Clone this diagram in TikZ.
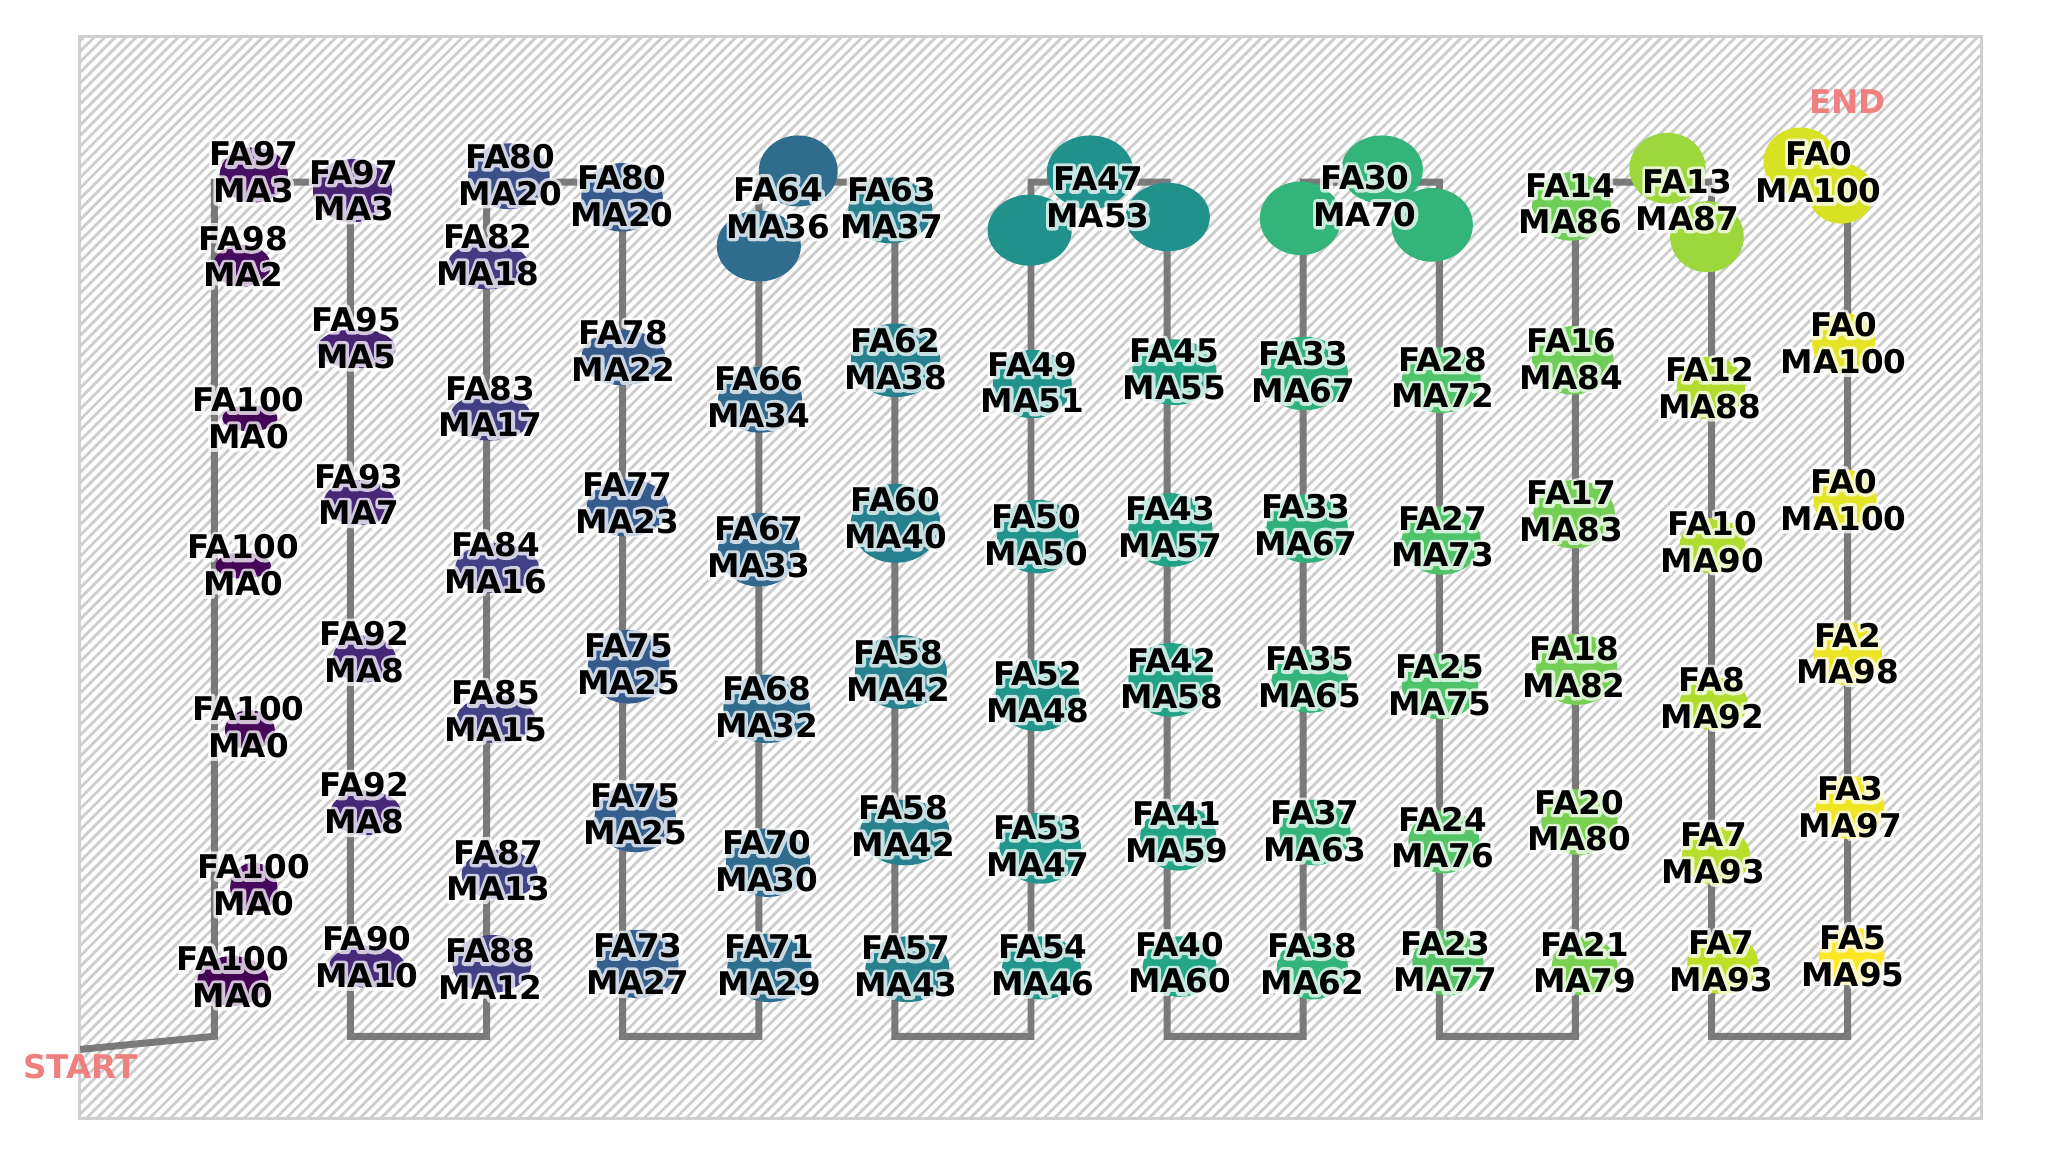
\documentclass[tikz,border=0pt]{standalone}
\usepackage{fontspec}
\setmainfont{DejaVu Sans}
\definecolor{v0}{HTML}{440154}
\definecolor{v1}{HTML}{482475}
\definecolor{v2}{HTML}{414487}
\definecolor{v3}{HTML}{355F8D}
\definecolor{v4}{HTML}{2A788E}
\definecolor{v5}{HTML}{21918C}
\definecolor{v6}{HTML}{22A884}
\definecolor{v7}{HTML}{44BF70}
\definecolor{v8}{HTML}{7AD151}
\definecolor{v9}{HTML}{BDDF26}
\definecolor{v10}{HTML}{FDE725}
\definecolor{hatchc}{HTML}{CDCDCD}
\definecolor{framec}{HTML}{CFCFCF}
\definecolor{pathc}{HTML}{6E6E6E}
\definecolor{markc}{HTML}{F08080}
\newcommand\setvir[1]{%
  \pgfmathsetmacro\vt{max(0,min(1,#1))*10}%
  \pgfmathtruncatemacro\vk{min(\vt,9.999)}%
  \pgfmathtruncatemacro\vkn{\vk+1}%
  \pgfmathsetmacro\vf{(\vt-\vk)*100}%
  \colorlet{blobc}{v\vkn!\vf!v\vk}%
}
\newcommand\strokeon{\special{pdf:literal direct 1 Tr 2.5 w 1 j 1 J}}
\newcommand\strokeoff{\special{pdf:literal direct 0 Tr}}
\newcommand\nd[7]{}
\def\alldata{%
\nd{a1}{193}{131}{FA97}{MA3}{0.04}{193/133/26/21}
\nd{a2}{185}{195}{FA98}{MA2}{0.03}{184/202/22/16}
\nd{a3}{189}{318}{FA100}{MA0}{0.01}{190/318/21/10}
\nd{a4}{185}{430}{FA100}{MA0}{0.01}{185/430/21/10}
\nd{a5}{189}{553}{FA100}{MA0}{0.02}{190/555/19/15}
\nd{a6}{193}{673}{FA100}{MA0}{0.02}{193/675/18/19}
\nd{a7}{177}{743}{FA100}{MA0}{0.0}{177/746/27/19}
\nd{b1}{269}{145}{FA97}{MA3}{0.10}{268/145/30/24}
\nd{b2}{271}{257}{FA95}{MA5}{0.10}{271/265/30/15}
\nd{b3}{273}{376}{FA93}{MA7}{0.11}{273/382/27/17}
\nd{b4}{277}{496}{FA92}{MA8}{0.11}{277/501/24/18}
\nd{b5}{277}{611}{FA92}{MA8}{0.11}{278/618/27/17}
\nd{b6}{279}{728}{FA90}{MA10}{0.12}{279/735/29/16}
\nd{c1}{388}{133}{FA80}{MA20}{0.24}{387/134/31/25}
\nd{c2}{371}{194}{FA82}{MA18}{0.17}{371/202/31/18}
\nd{c3}{373}{309}{FA83}{MA17}{0.18}{373/317/31/18}
\nd{c4}{377}{428}{FA84}{MA16}{0.19}{378/432/32/19}
\nd{c5}{377}{541}{FA85}{MA15}{0.19}{377/547/30/18}
\nd{c6}{379}{662}{FA87}{MA13}{0.20}{380/665/29/19}
\nd{c7}{373}{737}{FA88}{MA12}{0.19}{374/733/30/22}
\nd{d1}{473}{149}{FA80}{MA20}{0.28}{473/150/31/26}
\nd{d2}{474}{267}{FA78}{MA22}{0.28}{474/272/32/21}
\nd{d3}{477}{383}{FA77}{MA23}{0.29}{477/386/31/22}
\nd{d4}{478}{505}{FA75}{MA25}{0.29}{478/507/31/28}
\nd{d5}{483}{619}{FA75}{MA25}{0.30}{483/622/31/26}
\nd{d6}{485}{733}{FA73}{MA27}{0.30}{485/733/31/26}
\nd{e1}{592}{158}{FA64}{MA36}{0.35}{607/130/30/27, 577/187/32/27}
\nd{e2}{577}{302}{FA66}{MA34}{0.34}{578/304/32/25}
\nd{e3}{577}{416}{FA67}{MA33}{0.34}{577/418/31/28}
\nd{e4}{583}{538}{FA68}{MA32}{0.35}{583/539/33/26}
\nd{e5}{583}{655}{FA70}{MA30}{0.35}{584/656/32/26}
\nd{e6}{585}{734}{FA71}{MA29}{0.36}{585/736/32/26}
\nd{f1}{678}{158}{FA63}{MA37}{0.43}{677/160/32/25}
\nd{f2}{681}{273}{FA62}{MA38}{0.43}{681/274/34/28}
\nd{f3}{681}{394}{FA60}{MA40}{0.43}{681/398/34/30}
\nd{f4}{683}{510}{FA58}{MA42}{0.44}{685/511/35/28}
\nd{f5}{687}{628}{FA58}{MA42}{0.44}{688/633/34/25}
\nd{f6}{689}{735}{FA57}{MA43}{0.44}{690/737/32/25}
\nd{g1}{835}{150}{FA47}{MA53}{0.50}{829/131/33/28, 783/175/32/27, 888/165/32/26}
\nd{g2}{785}{291}{FA49}{MA51}{0.51}{785/292/30/26}
\nd{g3}{788}{407}{FA50}{MA50}{0.51}{789/408/31/28}
\nd{g4}{789}{526}{FA52}{MA48}{0.52}{789/529/32/27}
\nd{g5}{789}{643}{FA53}{MA47}{0.52}{791/645/31/27}
\nd{g6}{793}{734}{FA54}{MA46}{0.52}{792/736/30/24}
\nd{h1}{893}{281}{FA45}{MA55}{0.59}{893/283/32/25}
\nd{h2}{890}{401}{FA43}{MA57}{0.58}{890/403/32/28}
\nd{h3}{891}{516}{FA42}{MA58}{0.58}{890/517/32/28}
\nd{h4}{895}{633}{FA41}{MA59}{0.59}{896/637/29/25}
\nd{h5}{897}{732}{FA40}{MA60}{0.59}{897/735/28/23}
\nd{i1}{1038}{149}{FA30}{MA70}{0.65}{1051/129/31/26, 989/166/31/28, 1089/171/31/28}
\nd{i2}{991}{283}{FA33}{MA67}{0.64}{992/284/33/28}
\nd{i3}{993}{399}{FA33}{MA67}{0.64}{994/402/31/26}
\nd{i4}{996}{515}{FA35}{MA65}{0.65}{996/518/29/24}
\nd{i5}{1000}{632}{FA37}{MA63}{0.65}{1000/633/27/25}
\nd{i6}{998}{733}{FA38}{MA62}{0.65}{998/736/27/24}
\nd{j1}{1097}{287}{FA28}{MA72}{0.72}{1096/289/30/25}
\nd{j2}{1097}{408}{FA27}{MA73}{0.72}{1096/411/30/26}
\nd{j3}{1095}{521}{FA25}{MA75}{0.72}{1095/522/29/25}
\nd{j4}{1097}{637}{FA24}{MA76}{0.73}{1098/640/27/24}
\nd{j5}{1099}{731}{FA23}{MA77}{0.73}{1101/732/27/25}
\nd{k1}{1194}{155}{FA14}{MA86}{0.78}{1195/157/30/26}
\nd{k2}{1195}{273}{FA16}{MA84}{0.78}{1196/274/31/26}
\nd{k3}{1195}{389}{FA17}{MA83}{0.79}{1197/391/31/26}
\nd{k4}{1197}{507}{FA18}{MA82}{0.79}{1199/509/31/27}
\nd{k5}{1201}{624}{FA20}{MA80}{0.80}{1201/625/29/25}
\nd{k6}{1205}{732}{FA21}{MA79}{0.80}{1205/735/25/22}
\nd{l1}{1283}{152}{FA13}{MA87}{0.85}{1268/128/29/27, 1298/180/28/27}
\nd{l2}{1300}{295}{FA12}{MA88}{0.88}{1301/295/26/24}
\nd{l3}{1302}{412}{FA10}{MA90}{0.88}{1302/415/25/21}
\nd{l4}{1302}{531}{FA8}{MA92}{0.88}{1303/535/26/20}
\nd{l5}{1303}{649}{FA7}{MA93}{0.89}{1305/651/26/22}
\nd{l6}{1309}{731}{FA7}{MA93}{0.90}{1310/733/27/23}
\nd{m1}{1383}{131}{FA0}{MA100}{0.94}{1369/123/28/26, 1400/147/25/23}
\nd{m2}{1402}{261}{FA0}{MA100}{0.96}{1402/261/24/23}
\nd{m3}{1402}{380}{FA0}{MA100}{0.96}{1403/380/24/23}
\nd{m4}{1405}{497}{FA2}{MA98}{0.97}{1405/497/26/24}
\nd{m5}{1407}{614}{FA3}{MA97}{0.98}{1407/614/26/24}
\nd{m6}{1409}{727}{FA5}{MA95}{1.00}{1408/727/25/22}
}
\begin{document}
\begin{tikzpicture}[x=0.5pt,y=-0.5pt,
  lbl/.style={align=center,inner sep=0pt,font=\fontsize{12.4}{14}\selectfont\bfseries},
  marklbl/.style={inner sep=0pt,font=\fontsize{12.4}{14}\selectfont\bfseries,text=markc},
  pathline/.style={draw=pathc,line width=2.65pt,opacity=0.9,line join=miter,line cap=butt}]
\useasboundingbox (0,0) rectangle (1568,880.6);
% hatched panel
\begin{scope}
  \clip (60.5,28) rectangle (1506.5,850.5);
  \fill[white] (60.5,28) rectangle (1506.5,850.5);
  \foreach \i in {-97,...,190} \draw[hatchc,line width=1.05pt] (\i*8,852) -- ++(826,-826);
\end{scope}
\draw[framec,line width=1.2pt] (60.5,28) rectangle (1506.5,850.5);
% path
\coordinate (s0) at (61,798);
\foreach \i in {0,...,12}{
  \pgfmathsetmacro\cx{163+103.5*\i}
  \coordinate (t\i) at (\cx,138.5);
  \coordinate (b\i) at (\cx,788);
}
\draw[pathline] (s0) -- (b0) -- (t0) -- (t1) -- (b1) -- (b2) -- (t2) -- (t3) -- (b3) -- (b4) -- (t4) -- (t5) -- (b5) -- (b6) -- (t6) -- (t7) -- (b7) -- (b8) -- (t8) -- (t9) -- (b9) -- (b10) -- (t10) -- (t11) -- (b11) -- (b12) -- (t12);
% blobs
\renewcommand\nd[7]{\setvir{#6}\foreach \bx/\by/\brx/\bry in {#7}{\fill[blobc] (\bx,\by) ellipse[x radius=\brx,y radius=\bry];}}
\alldata
% halos (stroked text)
\begin{scope}[transparency group,opacity=0.75]
\renewcommand\nd[7]{\node[lbl,text=white] at (#2,#3) {\strokeon #4\\#5\strokeoff};}
\alldata
\end{scope}
% labels
\renewcommand\nd[7]{\node[lbl] (#1) at (#2,#3) {#4\\#5};}
\alldata
\node[marklbl] (start) at (61,811) {START};
\node[marklbl] (end) at (1405,77) {END};
\end{tikzpicture}
\end{document}
